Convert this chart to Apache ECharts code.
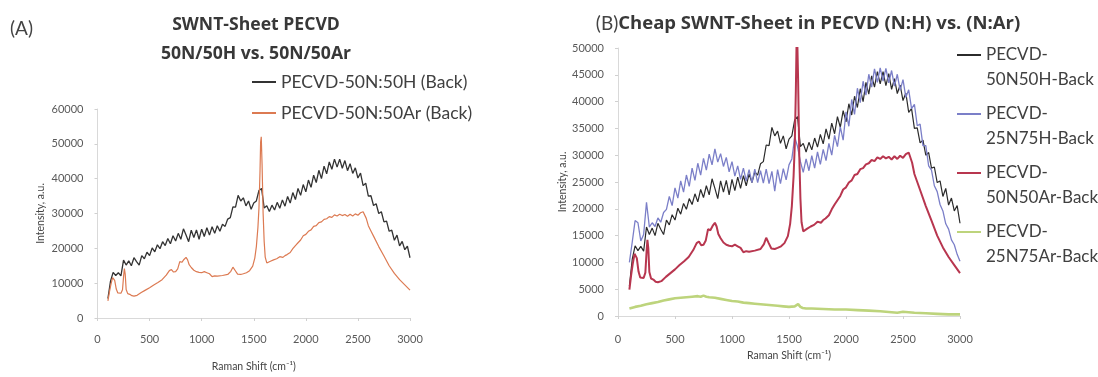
<!DOCTYPE html>
<html>
<head>
<meta charset="utf-8">
<script src="https://cdn.jsdelivr.net/npm/echarts@6/dist/echarts.min.js"></script>
<style>
html,body{margin:0;padding:0;background:#fff;}
#chart{width:1098px;height:377px;}
</style>
</head>
<body>
<div id="chart"></div>
<script>
// Raman shift grid (cm^-1) for the two noisy H-series
const shiftH = [100,125,150,175,200,225,250,275,300,325,350,375,400,425,450,475,500,525,550,575,600,625,650,675,700,725,750,775,800,825,850,875,900,925,950,975,1000,1025,1050,1075,1100,1125,1150,1175,1200,1225,1250,1275,1300,1325,1350,1375,1400,1425,1450,1475,1500,1525,1550,1575,1600,1625,1650,1675,1700,1725,1750,1775,1800,1825,1850,1875,1900,1925,1950,1975,2000,2025,2050,2075,2100,2125,2150,2175,2200,2225,2250,2275,2300,2325,2350,2375,2400,2425,2450,2475,2500,2525,2550,2575,2600,2625,2650,2675,2700,2725,2750,2775,2800,2825,2850,2875,2900,2925,2950,2975,3000];

// PECVD-50N:50H (Back)
const int50N50H = [5600,10600,13100,12200,13000,12100,16600,15200,16400,15000,17300,16200,15200,17900,17000,18900,17900,20100,19000,21000,19900,21900,20800,22800,21300,23600,22100,24300,22600,25600,23800,21900,25200,23100,25300,22600,25500,23400,25900,23800,26200,24300,26500,24900,26900,26300,28400,28800,31900,31800,35200,33600,34500,32200,33600,31200,33000,33600,36600,37200,31600,32200,30600,32400,31000,33200,31500,33900,32100,34900,33000,36000,34000,37200,35200,38300,36200,39600,37500,41000,38900,42400,40000,43600,41400,44800,42700,45600,43300,45600,43000,45200,42300,44300,41500,43100,40200,41600,38000,38700,35000,35100,32300,32800,30000,30500,27600,27800,24900,25200,22300,23800,20700,22000,19600,20600,17300];

// PECVD-25N75H-Back
const int25N75H = [10000,13800,17800,17400,14000,15200,21200,16600,17400,16700,18300,17500,19300,19900,22300,20600,23900,22000,25200,23100,26300,24200,27600,25300,28500,26300,29400,27200,30200,28200,31200,28700,30300,27900,29600,26900,28800,26100,28000,25500,27600,25200,27300,24900,27400,24900,27100,24800,27400,24700,27000,23300,27300,24700,27500,25400,28200,29300,33400,31600,28800,26800,29300,27100,29900,27600,30600,28300,31100,29000,32200,30000,33700,31600,35300,32800,38100,35400,40400,37600,42500,39800,43800,41200,45100,42700,46100,43600,46300,43800,46200,43500,45800,42900,45100,42100,44100,40800,42200,38700,39500,35500,35800,31800,31800,28000,27200,24300,23200,20800,19600,17200,16200,14200,13300,11500,10200];

// PECVD-50N:50Ar (Back)
const shiftAr = [100,115,130,145,155,165,180,195,210,225,240,250,258,266,275,290,310,330,350,380,420,460,500,540,580,620,660,690,710,730,750,770,790,810,830,850,865,880,900,925,950,975,1000,1025,1050,1075,1100,1125,1150,1200,1250,1280,1300,1320,1345,1375,1400,1430,1460,1490,1510,1525,1540,1550,1560,1566,1572,1580,1590,1600,1610,1625,1640,1660,1690,1720,1750,1780,1800,1820,1850,1875,1900,1925,1950,1975,2000,2025,2050,2075,2100,2125,2150,2175,2200,2225,2250,2275,2300,2325,2350,2375,2400,2425,2450,2475,2500,2525,2550,2565,2580,2600,2625,2650,2700,2750,2800,2850,2900,2950,3000];
const int50N50Ar = [4900,7600,9800,11600,11800,10800,8300,7200,6900,7100,8100,11800,14200,12600,8200,7000,6800,6400,6300,6500,7300,8000,8700,9500,10200,11000,12300,13600,13900,13200,13300,14100,16200,16000,16800,17400,16700,15300,14500,13700,13300,13100,13000,13300,13000,12700,11900,12100,12000,12200,12500,13400,14600,13700,12600,12500,12700,13000,13600,14900,17200,20500,26000,31500,42000,50500,52000,44000,30000,22000,17500,15800,15900,16300,16700,17000,17600,17400,17900,18200,18800,19900,20800,21600,22400,23600,24000,24900,25300,26300,26500,27400,27600,28300,28500,29100,28900,29600,29300,29800,29400,29700,29200,29800,29300,29900,29500,30200,30500,30300,28600,26500,25000,23500,20500,17800,15000,12800,11000,9500,8000];

// PECVD-25N75Ar-Back
const shiftAr75 = [100,150,200,250,300,350,400,450,500,550,600,650,700,725,750,775,800,850,900,950,1000,1050,1100,1150,1200,1250,1300,1350,1400,1450,1500,1550,1580,1600,1620,1650,1700,1800,1900,2000,2100,2200,2300,2350,2400,2450,2500,2550,2600,2700,2800,2900,3000];
const int25N75Ar = [1400,1700,1900,2200,2400,2600,2900,3100,3300,3400,3500,3600,3700,3600,3800,3600,3500,3400,3200,3000,2800,2700,2500,2400,2300,2200,2100,2000,1900,1800,1700,1800,2200,1700,1500,1400,1400,1300,1200,1200,1100,1000,900,800,700,600,800,700,600,500,400,300,300];

const namesA = ['PECVD-50N:50H (Back)', 'PECVD-50N:50Ar (Back)'];
const namesB = ['PECVD-50N50H-Back', 'PECVD-25N75H-Back', 'PECVD-50N50Ar-Back', 'PECVD-25N75Ar-Back'];

const pairs = (xs, ys) => xs.map((x, i) => [x, ys[i]]);

const FONT = 'Lato, "Open Sans", sans-serif';
const labelStyle = { color: '#595959', fontSize: 11, fontFamily: FONT, formatter: v => String(v) };
const axLine = { show: true, lineStyle: { color: '#d9d9d9', width: 1 } };
const axTick = { show: true, length: 3, lineStyle: { color: '#d0d0d0' } };

function xAx(grid, gap, margin) {
  return {
    type: 'value', gridIndex: grid, min: 0, max: 3000, interval: 500,
    name: 'Raman Shift (cm⁻¹)', nameLocation: 'middle', nameGap: gap,
    nameTextStyle: { color: '#444', fontSize: 10.5, fontFamily: FONT },
    axisLine: axLine, axisTick: axTick, splitLine: { show: false },
    axisLabel: Object.assign({ margin: margin }, labelStyle)
  };
}
function yAx(grid, max, interval, gap) {
  return {
    type: 'value', gridIndex: grid, min: 0, max: max, interval: interval,
    name: 'Intensity, a.u.', nameLocation: 'middle', nameGap: gap,
    nameTextStyle: { color: '#444', fontSize: 10.5, fontFamily: FONT },
    axisLine: axLine, axisTick: axTick, splitLine: { show: false },
    axisLabel: Object.assign({ margin: 14 }, labelStyle)
  };
}
function line(name, data, color, width, xi) {
  return {
    name: name, type: 'line', xAxisIndex: xi, yAxisIndex: xi, data: data,
    symbol: 'none', showSymbol: false, clip: true, silent: true, animation: false,
    lineStyle: { color: color, width: width }, itemStyle: { color: color }
  };
}

const chart = echarts.init(document.getElementById('chart'), null, { renderer: 'canvas' });
chart.setOption({
  backgroundColor: '#ffffff',
  animation: false,
  grid: [
    { left: 97.5, top: 109, width: 312.5, height: 218 },
    { left: 618, top: 48, width: 342, height: 268 }
  ],
  xAxis: [xAx(0, 43, 16), xAx(1, 28, 18)],
  yAxis: [yAx(0, 60000, 10000, 51), yAx(1, 50000, 5000, 40)],
  legend: [
    {
      data: namesA, orient: 'vertical', left: 251, top: 72, padding: 0,
      itemWidth: 24, itemHeight: 12, itemGap: 11,
      itemStyle: { opacity: 0 },
      textStyle: { color: '#404040', fontSize: 17.5, lineHeight: 20, fontFamily: FONT }
    },
    {
      data: namesB, orient: 'vertical', left: 956, top: 17.5, padding: 0,
      itemWidth: 24, itemHeight: 10, itemGap: -16,
      itemStyle: { opacity: 0 },
      formatter: n => ' \n' + n.replace('PECVD-', 'PECVD-\n'),
      textStyle: { color: '#404040', fontSize: 17, lineHeight: 25, fontFamily: FONT }
    }
  ],
  graphic: [
    { type: 'text', x: 10, y: 29, style: { text: '(A)', fill: '#444', fontSize: 19, fontFamily: FONT, textVerticalAlign: 'middle' } },
    { type: 'text', x: 256, y: 39.5, style: { text: 'SWNT-Sheet PECVD\n50N/50H vs. 50N/50Ar', fill: '#383838', fontSize: 17.6, fontWeight: 'bold', fontFamily: '"Open Sans", sans-serif', textAlign: 'center', textVerticalAlign: 'middle', lineHeight: 29 } },
    { type: 'text', x: 808, y: 24, style: {
        text: '{n|(B)}{b|Cheap SWNT-Sheet in PECVD (N:H) vs. (N:Ar)}',
        textAlign: 'center', textVerticalAlign: 'middle',
        rich: {
          n: { fontSize: 19, fontFamily: FONT, fill: '#444', color: '#444' },
          b: { fontSize: 18.5, fontWeight: 'bold', fontFamily: '"Open Sans", sans-serif', fill: '#383838', color: '#383838' }
        }
    } }
  ],
  series: [
    line(namesA[0], pairs(shiftH, int50N50H), '#333333', 1.3, 0),
    line(namesA[1], pairs(shiftAr, int50N50Ar), '#dc7a52', 1.2, 0),
    line(namesB[0], pairs(shiftH, int50N50H), '#2b2b2b', 1.2, 1),
    line(namesB[1], pairs(shiftH, int25N75H), '#7b7fc8', 1.3, 1),
    line(namesB[2], pairs(shiftAr, int50N50Ar), '#b8364f', 2, 1),
    line(namesB[3], pairs(shiftAr75, int25N75Ar), '#bdd47c', 2.6, 1)
  ]
});
</script>
</body>
</html>
